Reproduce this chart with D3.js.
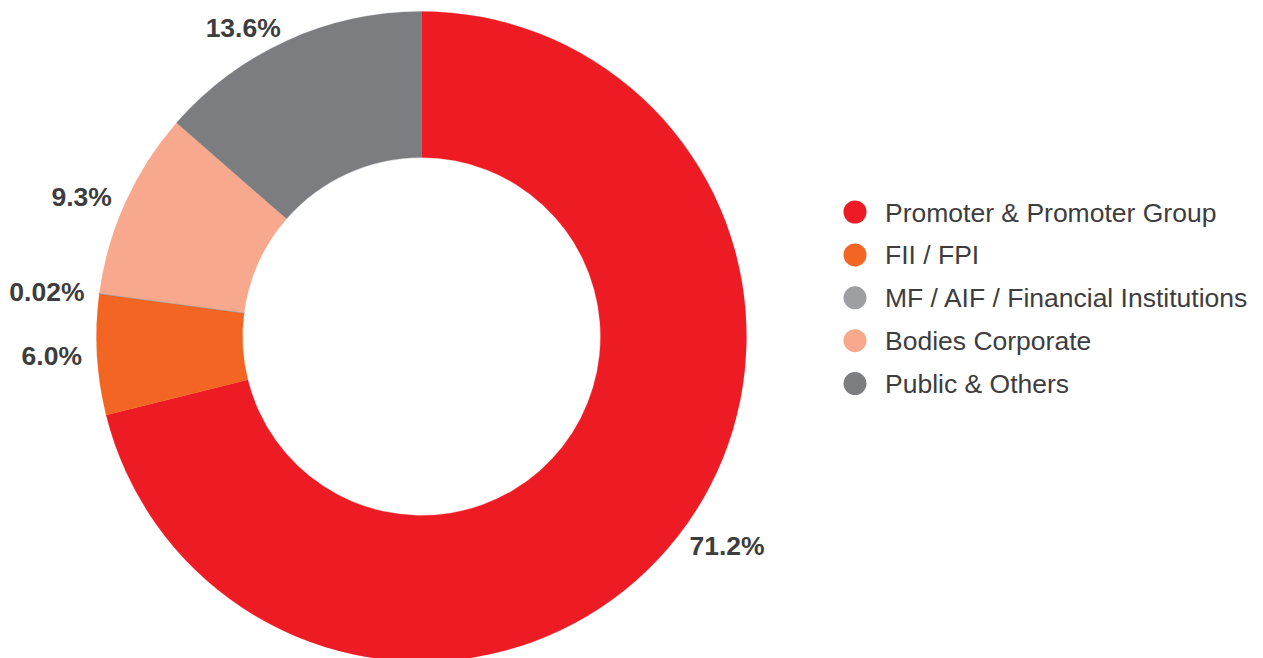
<!DOCTYPE html>
<html>
<head>
<meta charset="utf-8">
<script src="https://cdn.jsdelivr.net/npm/d3@7"></script>
<style>
  html, body { margin: 0; padding: 0; background: #ffffff; }
  svg { display: block; }
</style>
</head>
<body>
<svg id="chart" width="1263" height="658"></svg>
<script>
const categories = [
  "Promoter & Promoter Group",
  "FII / FPI",
  "MF / AIF / Financial Institutions",
  "Bodies Corporate",
  "Public & Others"
];
const values = [71.2, 6.0, 0.02, 9.3, 13.6];
const valueLabels = ["71.2%", "6.0%", "0.02%", "9.3%", "13.6%"];
const colors = ["#ED1C24", "#F26522", "#9D9FA2", "#F8A98D", "#7C7D81"];

const svg = d3.select("#chart");
const cx = 421.5, cy = 336.5;
const outerR = 325, innerR = 179, labelR = 340;

const pie = d3.pie().sort(null).value(d => d.value);
const data = categories.map((c, i) => ({ name: c, value: values[i], label: valueLabels[i], color: colors[i] }));
const arcs = pie(data);

const arc = d3.arc().innerRadius(innerR).outerRadius(outerR);
const labelArc = d3.arc().innerRadius(labelR).outerRadius(labelR);

const g = svg.append("g").attr("transform", `translate(${cx},${cy})`);

g.selectAll("path.slice")
  .data(arcs)
  .join("path")
  .attr("class", "slice")
  .attr("d", arc)
  .attr("fill", d => d.data.color)
  .attr("stroke", d => d.data.color)
  .attr("stroke-width", d => d.data.value < 1 ? 1.2 : 0.3);

g.selectAll("text.vlabel")
  .data(arcs)
  .join("text")
  .attr("class", "vlabel")
  .attr("transform", d => `translate(${labelArc.centroid(d)})`)
  .attr("text-anchor", d => ((d.startAngle + d.endAngle) / 2 < Math.PI ? "start" : "end"))
  .attr("dy", "0.36em")
  .attr("font-family", "'Liberation Sans', Arial, Helvetica, sans-serif")
  .attr("font-weight", "bold")
  .attr("font-size", 26.5)
  .attr("fill", "#3d3d3d")
  .text(d => d.data.label);

// Legend
const legendX = 855, legendY0 = 212, legendStep = 42.9;
const legend = svg.append("g");
const items = legend.selectAll("g.item")
  .data(data)
  .join("g")
  .attr("class", "item")
  .attr("transform", (d, i) => `translate(${legendX},${legendY0 + i * legendStep})`);

items.append("circle")
  .attr("r", 11.5)
  .attr("fill", d => d.color);

items.append("text")
  .attr("x", 30)
  .attr("dy", "0.36em")
  .attr("font-family", "'Liberation Sans', Arial, Helvetica, sans-serif")
  .attr("font-size", 26.5)
  .attr("fill", "#3d3d3d")
  .text(d => d.name);
</script>
</body>
</html>
